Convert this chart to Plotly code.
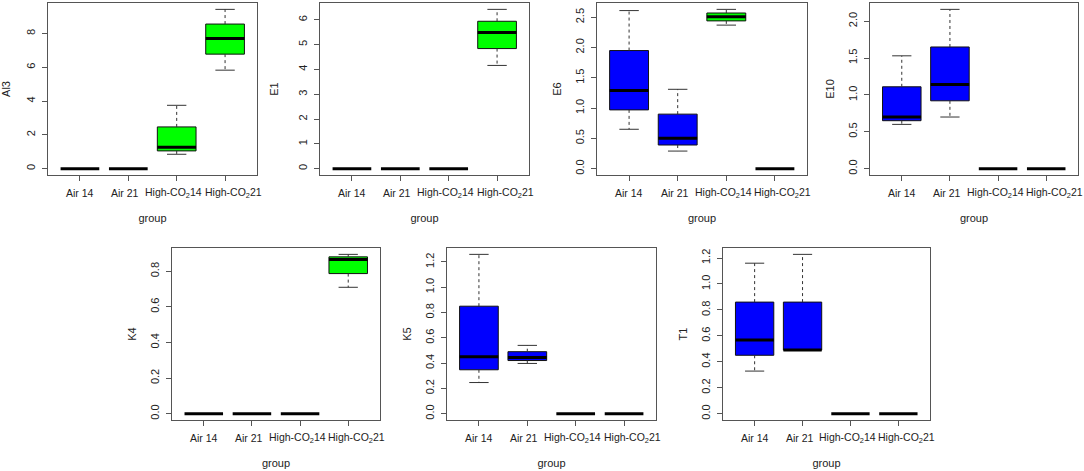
import plotly.graph_objects as go

groups = ["Air 14", "Air 21", "High-CO<sub>2</sub>14", "High-CO<sub>2</sub>21"]
group_colors = ["#0000ff", "#0000ff", "#00ff00", "#00ff00"]

# cinque numeri per gruppo: baffo inf, Q1, mediana, Q3, baffo sup
al3 = [[0, 0, 0, 0, 0], [0, 0, 0, 0, 0],
       [0.85, 1.05, 1.26, 2.47, 3.75], [5.83, 6.78, 7.71, 8.56, 9.43]]
e1 = [[0, 0, 0, 0, 0], [0, 0, 0, 0, 0],
      [0, 0, 0, 0, 0], [4.16, 4.84, 5.49, 5.94, 6.42]]
e6 = [[0.65, 0.97, 1.29, 1.95, 2.61], [0.29, 0.39, 0.50, 0.90, 1.31],
      [2.37, 2.44, 2.51, 2.57, 2.63], [0, 0, 0, 0, 0]]
e10 = [[0.60, 0.65, 0.70, 1.11, 1.53], [0.70, 0.92, 1.14, 1.65, 2.16],
       [0, 0, 0, 0, 0], [0, 0, 0, 0, 0]]
k4 = [[0, 0, 0, 0, 0], [0, 0, 0, 0, 0],
      [0, 0, 0, 0, 0], [0.71, 0.787, 0.866, 0.881, 0.895]]
k5 = [[0.246, 0.347, 0.45, 0.85, 1.26], [0.397, 0.42, 0.445, 0.49, 0.54],
      [0, 0, 0, 0, 0], [0, 0, 0, 0, 0]]
t1 = [[0.328, 0.45, 0.568, 0.86, 1.16], [0.49, 0.49, 0.49, 0.86, 1.228],
      [0, 0, 0, 0, 0], [0, 0, 0, 0, 0]]

variabili = ["Al3", "E1", "E6", "E10", "K4", "K5", "T1"]
dati = [al3, e1, e6, e10, k4, k5, t1]
y_ticks = [[0, 2, 4, 6, 8], [0, 1, 2, 3, 4, 5, 6],
           [0, 0.5, 1.0, 1.5, 2.0, 2.5], [0, 0.5, 1.0, 1.5, 2.0],
           [0, 0.2, 0.4, 0.6, 0.8], [0, 0.2, 0.4, 0.6, 0.8, 1.0, 1.2],
           [0, 0.2, 0.4, 0.6, 0.8, 1.0, 1.2]]
y_format = ["d", "d", ".1f", ".1f", ".1f", ".1f", ".1f"]

W, H = 1084, 471
# riquadri dei pannelli in pixel (sinistra, destra, alto, basso)
frames = [(48, 257, 3, 175), (320, 529, 3, 175), (597, 807, 3, 175),
          (870, 1078, 3, 175), (172, 380, 248, 420), (447, 656, 248, 420),
          (723, 930, 248, 420)]
# spostamento orizzontale delle etichette dei gruppi (come nell'originale)
label_shift = [0, -3, -3, 8]

fig = go.Figure()
font = dict(family="Liberation Sans, Arial, sans-serif", size=11, color="#222")
xfont = dict(family="Liberation Sans, Arial, sans-serif", size=10.5,
             color="#222")
mezza = 0.4

for k, (nome, stats) in enumerate(zip(variabili, dati)):
    ax = "" if k == 0 else str(k + 1)
    for i, (lo, q1, med, q3, hi) in enumerate(stats):
        x = i + 1
        if q3 > q1:
            fig.add_trace(go.Scatter(
                x=[x - mezza, x + mezza, x + mezza, x - mezza, x - mezza],
                y=[q1, q1, q3, q3, q1], mode="lines", fill="toself",
                fillcolor=group_colors[i], line=dict(color="#111", width=1),
                xaxis="x" + ax, yaxis="y" + ax, hoverinfo="skip"))
        for a, b in [(q3, hi), (q1, lo)]:
            if b != a:
                fig.add_trace(go.Scatter(
                    x=[x, x], y=[a, b], mode="lines",
                    line=dict(color="#333", width=1, dash="3px,3px"),
                    xaxis="x" + ax, yaxis="y" + ax, hoverinfo="skip"))
                fig.add_trace(go.Scatter(
                    x=[x - mezza / 2, x + mezza / 2], y=[b, b], mode="lines",
                    line=dict(color="#333", width=1),
                    xaxis="x" + ax, yaxis="y" + ax, hoverinfo="skip"))
        fig.add_trace(go.Scatter(
            x=[x - mezza, x + mezza], y=[med, med], mode="lines",
            line=dict(color="black", width=3),
            xaxis="x" + ax, yaxis="y" + ax, hoverinfo="skip"))
        # etichetta del gruppo sotto l'asse
        fig.add_annotation(
            text=groups[i], x=x, xref="x" + ax, y=0, yref=f"y{ax} domain",
            yanchor="middle", yshift=-18, xshift=label_shift[i],
            showarrow=False, font=xfont)

    # range alla R: estensione del 4%
    vmin = min(min(s) for s in stats)
    vmax = max(max(s) for s in stats)
    pad = 0.04 * (vmax - vmin)
    l, r, t, b = frames[k]
    fig.update_layout({
        "xaxis" + ax: dict(
            domain=[l / W, r / W], anchor="y" + ax, range=[0.34, 4.66],
            tickvals=[1, 2, 3, 4], showticklabels=False,
            ticks="outside", ticklen=5, tickcolor="#555",
            showline=True, mirror=True, linecolor="#555", linewidth=1,
            showgrid=False, zeroline=False,
            title=dict(text="group", font=font, standoff=34)),
        "yaxis" + ax: dict(
            domain=[1 - b / H, 1 - t / H], anchor="x" + ax,
            range=[vmin - pad, vmax + pad], tickvals=y_ticks[k],
            tickformat=y_format[k], tickangle=-90,
            ticks="outside", ticklen=5, tickcolor="#555",
            ticklabelstandoff=3,
            showline=True, mirror=True, linecolor="#555", linewidth=1,
            showgrid=False, zeroline=False, tickfont=font,
            title=dict(text=nome, font=font,
                       standoff=15 if y_format[k] == "d" else 9)),
    })

fig.update_layout(width=W, height=H, showlegend=False,
                  margin=dict(l=0, r=0, t=0, b=0),
                  plot_bgcolor="white", paper_bgcolor="white")

# niente margine della pagina, il grafico occupa tutta la finestra
fig.write_html("out.html", config={"displayModeBar": False},
               post_script="document.body.style.margin='0';")
